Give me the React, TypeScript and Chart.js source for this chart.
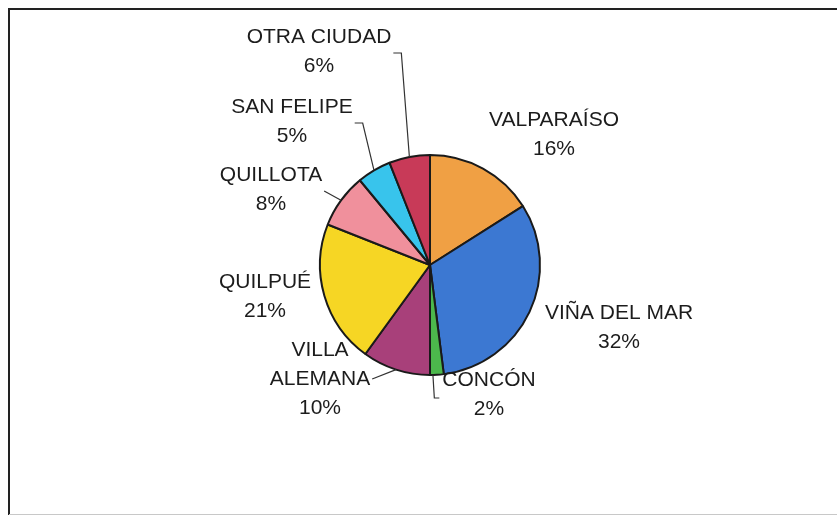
import React, { useEffect, useRef } from "react";
import { Chart, registerables } from "chart.js";

Chart.register(...registerables);

const categories = [
  "VALPARAÍSO",
  "VIÑA DEL MAR",
  "CONCÓN",
  "VILLA ALEMANA",
  "QUILPUÉ",
  "QUILLOTA",
  "SAN FELIPE",
  "OTRA CIUDAD",
];
const percentages = [16, 32, 2, 10, 21, 8, 5, 6];
const sliceColors = [
  "#F0A044",
  "#3C78D2",
  "#4CB84C",
  "#A8407A",
  "#F6D624",
  "#F0909C",
  "#38C4EC",
  "#C83A58",
];

// Label layout: text lines, first-line centre relative to pie centre, leader style
const labelLayout = [
  { lines: ["VALPARAÍSO", "16%"], dx: 124, dy: -145, leader: "none" },
  { lines: ["VIÑA DEL MAR", "32%"], dx: 189, dy: 48, leader: "none" },
  { lines: ["CONCÓN", "2%"], dx: 59, dy: 115, leader: "left" },
  { lines: ["VILLA", "ALEMANA", "10%"], dx: -110, dy: 85, leader: "direct" },
  { lines: ["QUILPUÉ", "21%"], dx: -165, dy: 17, leader: "none" },
  { lines: ["QUILLOTA", "8%"], dx: -159, dy: -90, leader: "direct" },
  { lines: ["SAN FELIPE", "5%"], dx: -138, dy: -158, leader: "right" },
  { lines: ["OTRA CIUDAD", "6%"], dx: -111, dy: -228, leader: "right" },
];

const FONT = '21px "Liberation Sans", Arial, sans-serif';
const LINE_H = 29;
const INK = "#1c1c1c";

const framePlugin = {
  id: "frame",
  beforeDraw(chart: any) {
    const ctx = chart.ctx;
    ctx.save();
    ctx.fillStyle = "#ffffff";
    ctx.fillRect(0, 0, chart.width, chart.height);
    ctx.strokeStyle = "#222";
    ctx.lineWidth = 2;
    ctx.beginPath();
    ctx.moveTo(837, 9);
    ctx.lineTo(9, 9);
    ctx.lineTo(9, 515);
    ctx.stroke();
    ctx.strokeStyle = "#c8c8c8";
    ctx.lineWidth = 1;
    ctx.beginPath();
    ctx.moveTo(9, 514.5);
    ctx.lineTo(837, 514.5);
    ctx.stroke();
    ctx.restore();
  },
};

const labelPlugin = {
  id: "pieLabels",
  afterDatasetsDraw(chart: any) {
    const ctx = chart.ctx;
    const meta = chart.getDatasetMeta(0);
    ctx.save();
    ctx.font = FONT;
    ctx.fillStyle = INK;
    ctx.textAlign = "center";
    ctx.textBaseline = "middle";
    meta.data.forEach((arc: any, i: number) => {
      const cfg = labelLayout[i];
      if (!cfg) return;
      const cx = arc.x;
      const cy = arc.y;
      const tx = cx + cfg.dx;
      const ty = cy + cfg.dy;
      cfg.lines.forEach((line, k) => {
        ctx.fillText(line, tx, ty + k * LINE_H);
      });
      const mid = (arc.startAngle + arc.endAngle) / 2;
      const rx = cx + Math.cos(mid) * arc.outerRadius;
      const ry = cy + Math.sin(mid) * arc.outerRadius;
      ctx.strokeStyle = "#333";
      ctx.lineWidth = 1.2;
      if (cfg.leader === "right") {
        const w = ctx.measureText(cfg.lines[0]).width;
        const ax = tx + w / 2 + 2;
        const ay = ty + 16;
        ctx.beginPath();
        ctx.moveTo(ax, ay);
        ctx.lineTo(ax + 8, ay);
        ctx.lineTo(rx, ry);
        ctx.stroke();
      } else if (cfg.leader === "left") {
        const w = ctx.measureText(cfg.lines[0]).width;
        const ax = tx - w / 2 - 3;
        const ay = ty + 18;
        ctx.beginPath();
        ctx.moveTo(ax, ay);
        ctx.lineTo(ax - 5, ay);
        ctx.lineTo(rx - 4, ry);
        ctx.stroke();
      } else if (cfg.leader === "direct") {
        const li = cfg.lines.length > 2 ? 1 : 0;
        const w = ctx.measureText(cfg.lines[li]).width;
        const ax = tx + w / 2 + 2;
        const ay = cfg.lines.length > 2 ? ty + LINE_H * li : ty + 16;
        ctx.beginPath();
        ctx.moveTo(ax, ay);
        ctx.lineTo(rx, ry);
        ctx.stroke();
      }
    });
    ctx.restore();
  },
};

export default function App() {
  const canvasRef = useRef<HTMLCanvasElement | null>(null);

  useEffect(() => {
    if (!canvasRef.current) return;
    const chart = new Chart(canvasRef.current, {
      type: "pie",
      data: {
        labels: categories,
        datasets: [
          {
            data: percentages,
            backgroundColor: sliceColors,
            borderColor: "#1a1a1a",
            borderWidth: 2,
          },
        ],
      },
      options: {
        responsive: true,
        maintainAspectRatio: false,
        animation: false,
        layout: { padding: { left: 319, right: 296, top: 154, bottom: 140 } },
        plugins: {
          legend: { display: false },
          tooltip: { enabled: false },
        },
      },
      plugins: [framePlugin, labelPlugin],
    });
    return () => chart.destroy();
  }, []);

  return (
    <div style={{ position: "fixed", left: 0, top: 0, width: 837, height: 516 }}>
      <canvas ref={canvasRef} />
    </div>
  );
}
